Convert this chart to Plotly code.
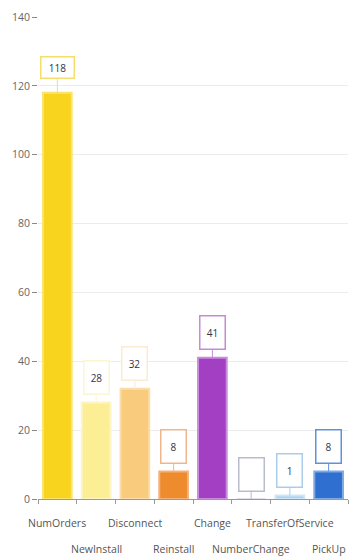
import plotly.graph_objects as go

categories = ["NumOrders", "NewInstall", "Disconnect", "Reinstall", "Change",
              "NumberChange", "TransferOfService", "PickUp"]
values = [118, 28, 32, 8, 41, 0, 1, 8]
bar_colors = ["#F8D41E", "#FBEE95", "#F9CB7C", "#EE8B2C", "#A23FC3",
              "#C8C8D8", "#A9D1F2", "#2F6FD0"]
edge_colors = ["#FBE46E", "#FDF5C2", "#FCDDA9", "#F4B27A", "#C98BDC",
               "#E0E0EA", "#CFE5F8", "#7FA9E3"]
label_borders = ["#F6DE6A", "#FCF5D2", "#FBEBD2", "#F0B58A", "#C78AD9",
                 "#B8BCCB", "#A9CDEA", "#5E93D8"]
y_ticks = [0, 20, 40, 60, 80, 100, 120, 140]

fig = go.Figure()
fig.add_trace(go.Bar(
    x=categories, y=values,
    marker=dict(color=bar_colors, line=dict(color=edge_colors, width=2)),
    width=0.74,
    hoverinfo="x+y",
))

for i, (c, v) in enumerate(zip(categories, values)):
    big = v >= 100
    fig.add_annotation(
        x=c, y=v, xref="x", yref="y",
        text=str(v) if v > 0 else "",
        showarrow=True, arrowhead=0, arrowwidth=1, arrowcolor=label_borders[i],
        ax=0, ay=-25,
        bgcolor="white", bordercolor=label_borders[i], borderwidth=1.5,
        width=30 if big else 22, height=18 if big else 30,
        font=dict(size=10, color="#333344", family="Open Sans"),
    )
    fig.add_annotation(
        x=c, y=0, xref="x", yref="paper",
        text=c, showarrow=False,
        yanchor="top", yshift=-15 if i % 2 == 0 else -41,
        font=dict(size=10.5, color="#555555", family="Open Sans"),
    )

# page body has an 8px default margin, so the figure is 8px smaller and shifted
fig.update_layout(
    width=350, height=550,
    margin=dict(l=30, r=10, t=9, b=59, autoexpand=False),
    plot_bgcolor="white", paper_bgcolor="white",
    showlegend=False,
    bargap=0.26,
    font=dict(family="Open Sans", size=10, color="#666666"),
)
fig.update_xaxes(
    automargin=False,
    showticklabels=False, showgrid=False,
    showline=True, linecolor="#999999", linewidth=1,
    ticks="outside", ticklen=4, tickcolor="#999999",
    tickmode="array", tickvals=[i - 0.5 for i in range(len(categories) + 1)],
    range=[-0.5, len(categories) - 0.5],
)
fig.update_yaxes(
    automargin=False,
    range=[0, 140], tickvals=y_ticks,
    showgrid=True, gridcolor="#ececec", gridwidth=1,
    ticks="outside", ticklen=5, tickcolor="#888888",
    showline=False, zeroline=False,
    tickfont=dict(size=10.5, color="#666666"),
)

fig.write_html("out.html")
